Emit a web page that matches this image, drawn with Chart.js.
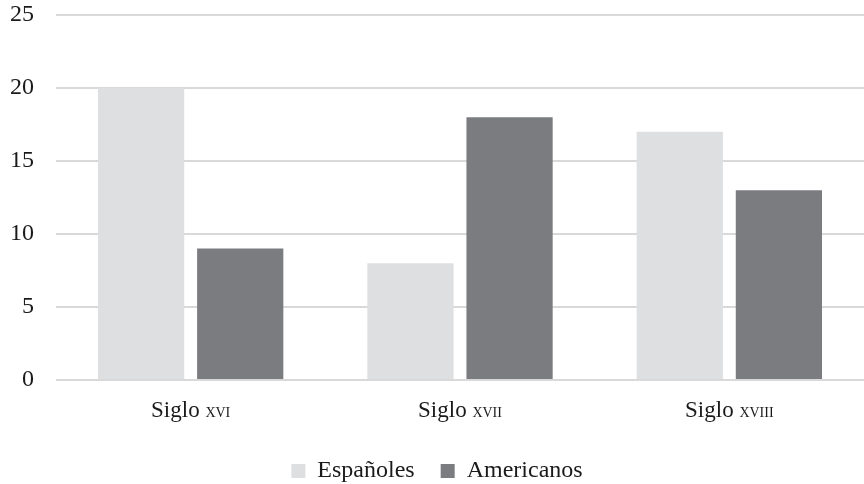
<!DOCTYPE html>
<html>
<head>
<meta charset="utf-8">
<script src="https://cdn.jsdelivr.net/npm/chart.js@4/dist/chart.umd.min.js"></script>
<style>
  html, body { margin: 0; padding: 0; background: #ffffff; }
  #wrap { width: 864px; height: 484px; }
</style>
</head>
<body>
<div id="wrap"><canvas id="c"></canvas></div>
<script>
// Categories: word + roman numeral (numeral rendered in small caps)
const categoryWords = ['Siglo', 'Siglo', 'Siglo'];
const categoryNumerals = ['XVI', 'XVII', 'XVIII'];
const seriesNames = ['Españoles', 'Americanos'];
const espanoles = [20, 8, 17];
const americanos = [9, 18, 13];
const yTicks = [0, 5, 10, 15, 20, 25];

const FONT = '"Liberation Serif", "DejaVu Serif", serif';
const labels = categoryWords.map((w, i) => w + ' ' + categoryNumerals[i]);

// Draws the category labels with the numerals in small caps
const smallCapsLabels = {
  id: 'smallCapsLabels',
  afterDraw(chart) {
    const ctx = chart.ctx;
    const x = chart.scales.x;
    const big = 23, small = 14;
    const y = x.top + 37;
    ctx.save();
    ctx.fillStyle = '#1a1a1a';
    ctx.textBaseline = 'alphabetic';
    ctx.textAlign = 'left';
    categoryWords.forEach((w, i) => {
      const cx = x.getPixelForTick(i);
      ctx.font = big + 'px ' + FONT;
      const w1 = ctx.measureText(w + ' ').width;
      ctx.font = small + 'px ' + FONT;
      const w2 = ctx.measureText(categoryNumerals[i]).width;
      const start = cx - (w1 + w2) / 2;
      ctx.font = big + 'px ' + FONT;
      ctx.fillText(w + ' ', start, y);
      ctx.font = small + 'px ' + FONT;
      ctx.fillText(categoryNumerals[i], start + w1, y);
    });
    ctx.restore();
  }
};

new Chart(document.getElementById('c'), {
  type: 'bar',
  data: {
    labels: labels,
    datasets: [
      { label: seriesNames[0], data: espanoles, backgroundColor: '#dedfe0' },
      { label: seriesNames[1], data: americanos, backgroundColor: '#7b7c7f' }
    ]
  },
  options: {
    responsive: true,
    maintainAspectRatio: false,
    animation: false,
    categoryPercentage: 0.736,
    barPercentage: 0.87,
    layout: { padding: { top: 0, right: 0, left: 10, bottom: -9 } },
    plugins: {
      tooltip: { enabled: false },
      legend: {
        position: 'bottom',
        labels: {
          boxWidth: 14,
          boxHeight: 14,
          padding: 26,
          color: '#1a1a1a',
          font: { family: FONT, size: 24 }
        }
      }
    },
    scales: {
      x: {
        grid: { display: false },
        border: { display: false },
        ticks: { color: 'rgba(0,0,0,0)', font: { family: FONT, size: 22 }, padding: 12 },
        afterFit(axis) { axis.height = 53; axis.paddingLeft = 0; axis.paddingRight = 0; }
      },
      y: {
        min: 0,
        max: 25,
        afterBuildTicks(axis) { axis.ticks = yTicks.map(v => ({ value: v })); },
        grid: { color: '#d9d9d9', lineWidth: 2, drawTicks: false },
        border: { display: false },
        ticks: { color: '#1a1a1a', font: { family: FONT, size: 24 }, padding: 22 },
        afterFit(axis) { axis.width = 46; axis.paddingTop = 15; axis.paddingBottom = 0; }
      }
    }
  },
  plugins: [smallCapsLabels]
});
</script>
</body>
</html>
